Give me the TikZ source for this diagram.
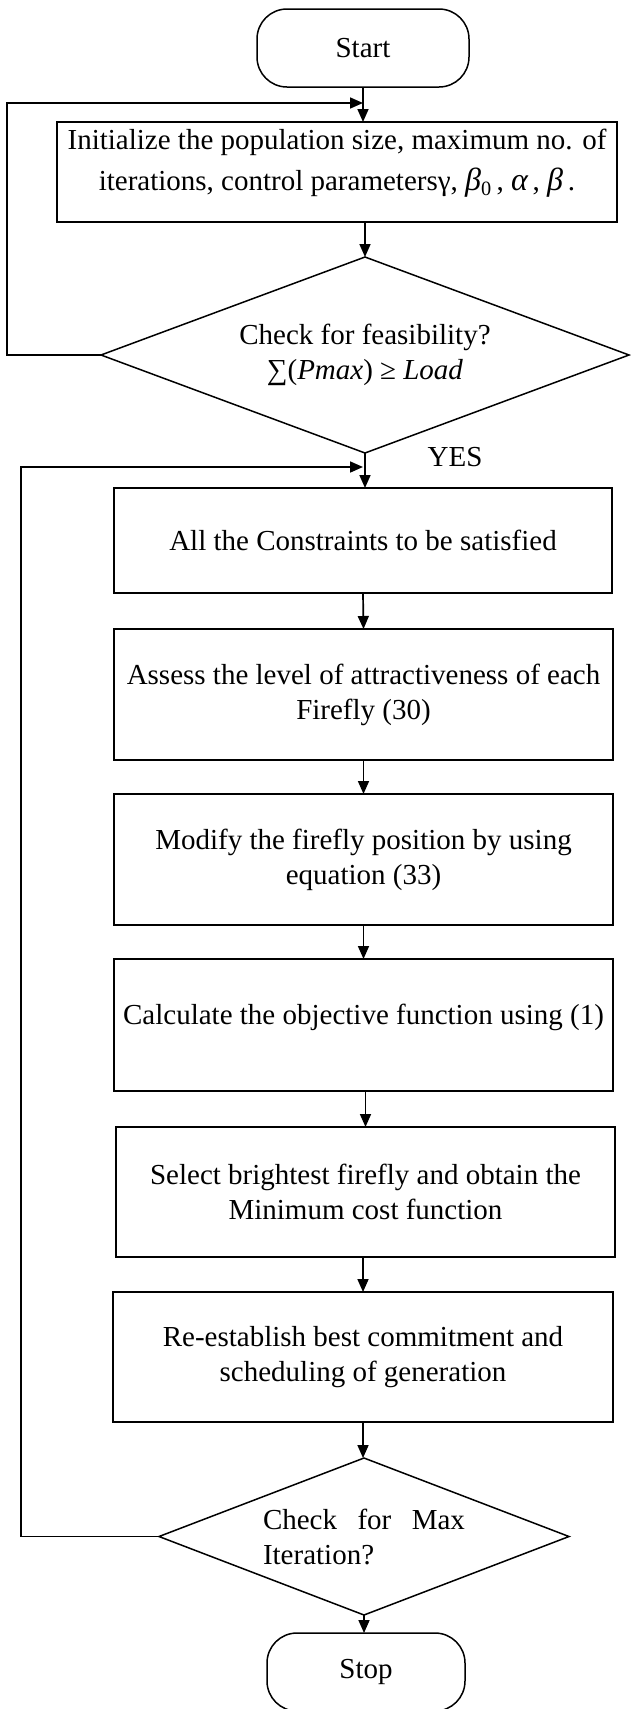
\documentclass[tikz,border=0pt]{standalone}
\usepackage{amsmath}
\usepackage{fontspec}
\setmainfont{Liberation Serif}
\usetikzlibrary{shapes.geometric,arrows.meta}
\newcommand{\mygr}[1]{{\fontsize{32}{35}\selectfont\itshape #1}}
\begin{document}
\begin{tikzpicture}[x=1pt,y=-1pt,
  every node/.style={font=\fontsize{29}{35}\selectfont, outer sep=0pt},
  proc/.style={draw, line width=1.5pt, rectangle, inner sep=0pt, align=center},
  term/.style={draw, line width=1.5pt, rectangle, rounded corners=30pt, minimum width=212pt, minimum height=78pt},
  decision/.style={draw, line width=1.5pt, diamond, inner sep=0pt, align=center},
  arr/.style={line width=1.7pt, -{Triangle[length=13pt,width=11pt]}},
  link/.style={line width=1.7pt}]
\useasboundingbox (0,0) rectangle (630,1709);

\node[term] (start) at (363,48) {Start};
\node[proc, minimum width=560pt, minimum height=100pt] (init) at (337,172)
  {Initialize the population size, maximum no. of\\[6pt]
   iterations, control parametersγ, \mygr{β}\textsubscript{0}\,, \mygr{α}\,, \mygr{β}\,.\rule[-25pt]{0pt}{25pt}};
\node[decision, minimum width=528pt, minimum height=196pt, aspect=2.69] (d1) at (365,355)
  {Check for feasibility?\\∑(\textit{Pmax}) ≥ \textit{Load}};
\node (yes) at (455,457) {YES};
\node[proc, minimum width=498pt, minimum height=105pt] (b2) at (363,540.5)
  {All the Constraints to be satisfied};
\node[proc, minimum width=499pt, minimum height=131pt] (b3) at (363.5,694.5)
  {Assess the level of attractiveness of each\\Firefly (30)};
\node[proc, minimum width=499pt, minimum height=131pt] (b4) at (363.5,859.5)
  {Modify the firefly position by using\\equation (33)};
\node[proc, minimum width=499pt, minimum height=132pt] (b5) at (363.5,1025)
  {Calculate the objective function using (1)\rule[-22pt]{0pt}{22pt}};
\node[proc, minimum width=499pt, minimum height=130pt] (b6) at (365.5,1192)
  {Select brightest firefly and obtain the\\Minimum cost function};
\node[proc, minimum width=500pt, minimum height=130pt] (b7) at (363,1357)
  {Re-establish best commitment and\\scheduling of generation};
\node[decision, minimum width=410pt, minimum height=157pt, aspect=2.61,
      text width=202pt, align=justify] (d2) at (364,1536.5)
  {Check for Max Iteration?};
\node[term, minimum width=198pt] (stop) at (366,1672) {Stop};

\coordinate (j1) at (363,103);
\coordinate (j2) at (363,467);
\coordinate (l1) at (7,355);
\coordinate (l2) at (21,1536.5);

\draw[arr] (start.south) -- (start.south |- init.north);
\draw[arr] (init.south -| d1.north) -- (d1.north);
\draw[arr] (d1.south) -- (d1.south |- b2.north);
\draw[arr] (b2.south) -- (b3.north);
\draw[arr] (b3.south) -- (b4.north);
\draw[arr] (b4.south) -- (b5.north);
\draw[arr] (b6.north |- b5.south) -- (b6.north);
\draw[arr] (b6.south -| b7.north) -- (b7.north);
\draw[arr] (b7.south) -- (b7.south |- d2.north);
\draw[arr] (d2.south) -- (d2.south |- stop.north);

\draw[arr] (d1.west) -- (l1) |- (j1);
\draw[arr] (d2.west) -- (l2) |- (j2);
\end{tikzpicture}
\end{document}
